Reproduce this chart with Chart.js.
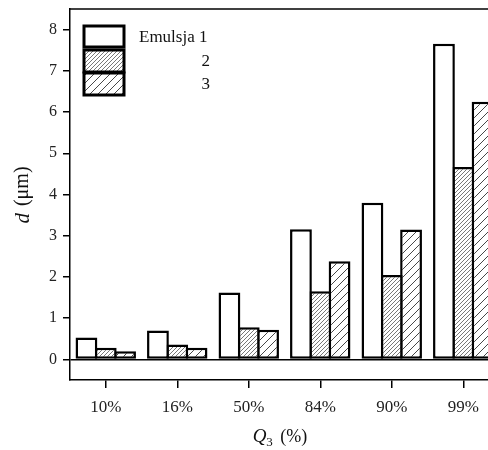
<!DOCTYPE html>
<html>
<head>
<meta charset="utf-8">
<script src="https://cdn.jsdelivr.net/npm/chart.js@4"></script>
<style>
  html, body { margin: 0; padding: 0; background: #fff; overflow: hidden; }
  #wrap { width: 488px; height: 450px; overflow: hidden; }
</style>
</head>
<body>
<div id="wrap"><canvas id="grafico" width="505" height="450"></canvas></div>
<script>
// dados do gráfico
const categorias = ['10%', '16%', '50%', '84%', '90%', '99%'];
const emulsja1 = [0.53, 0.70, 1.62, 3.16, 3.80, 7.66];
const emulsja2 = [0.28, 0.36, 0.78, 1.65, 2.05, 4.67];
const emulsja3 = [0.20, 0.28, 0.72, 2.38, 3.15, 6.25];
const nomesSeries = ['Emulsja 1', '2', '3'];
const ticksY = [0, 1, 2, 3, 4, 5, 6, 7, 8];
const tituloY = ['d', ' (μm)'];
const tituloX = ['Q', '3', ' (%)'];

const fonte = '"Liberation Serif", "DejaVu Serif", serif';
const canvas = document.getElementById('grafico');
const ctx = canvas.getContext('2d');

// hachura diagonal "/"
function criarHachura(tam, cor, larg) {
  const c = document.createElement('canvas');
  c.width = tam; c.height = tam;
  const g = c.getContext('2d');
  g.fillStyle = '#fff';
  g.fillRect(0, 0, tam, tam);
  g.strokeStyle = cor;
  g.lineWidth = larg;
  g.beginPath();
  g.moveTo(-1, tam + 1); g.lineTo(tam + 1, -1);
  g.moveTo(-tam / 2 - 1, tam / 2 + 1); g.lineTo(tam / 2 + 1, -tam / 2 - 1);
  g.moveTo(tam / 2 - 1, tam * 1.5 + 1); g.lineTo(tam * 1.5 + 1, tam / 2 - 1);
  g.stroke();
  return ctx.createPattern(c, 'repeat');
}

const hachuraDensa = criarHachura(4, '#555', 0.8);
const hachuraLarga = criarHachura(8, '#333', 0.9);

// legenda, moldura superior e títulos dos eixos
const extras = {
  id: 'extras',
  afterDraw(chart) {
    const c = chart.ctx;
    const area = chart.chartArea;
    c.save();
    // linha superior da moldura
    c.strokeStyle = '#000';
    c.lineWidth = 1.5;
    c.beginPath();
    c.moveTo(area.left, area.top);
    c.lineTo(area.right, area.top);
    c.stroke();

    // legenda
    const caixas = [[84, 26, 40, 21], [84, 50, 40, 22], [84, 73, 40, 22]];
    const fundos = ['#fff', hachuraDensa, hachuraLarga];
    caixas.forEach(function(b, i) {
      c.fillStyle = fundos[i];
      c.fillRect(b[0], b[1], b[2], b[3]);
      c.lineWidth = 3;
      c.strokeStyle = '#000';
      c.strokeRect(b[0], b[1], b[2], b[3]);
    });
    c.fillStyle = '#111';
    c.font = '17px ' + fonte;
    c.textBaseline = 'middle';
    c.textAlign = 'left';
    c.fillText(nomesSeries[0], 139, 38);
    c.textAlign = 'right';
    c.fillText(nomesSeries[1], 210, 62);
    c.fillText(nomesSeries[2], 210, 85);

    // título do eixo y: "d (μm)"
    c.save();
    c.translate(23, 195);
    c.rotate(-Math.PI / 2);
    c.textAlign = 'left';
    c.textBaseline = 'middle';
    c.font = 'italic 21px ' + fonte;
    const w1 = c.measureText(tituloY[0]).width;
    c.font = '20px ' + fonte;
    const w2 = c.measureText(tituloY[1]).width;
    let x0 = -(w1 + w2 + 2) / 2;
    c.font = 'italic 21px ' + fonte;
    c.fillText(tituloY[0], x0, 0);
    c.font = '20px ' + fonte;
    c.fillText(tituloY[1], x0 + w1 + 2, 0);
    c.restore();

    // título do eixo x: "Q3 (%)"
    c.textAlign = 'left';
    c.textBaseline = 'middle';
    c.font = 'italic 19px ' + fonte;
    const q = c.measureText(tituloX[0]).width;
    c.font = '13px ' + fonte;
    const s = c.measureText(tituloX[1]).width;
    c.font = '18px ' + fonte;
    const r = c.measureText(tituloX[2]).width;
    let xi = 280 - (q + s + r + 3) / 2;
    c.font = 'italic 19px ' + fonte;
    c.fillText(tituloX[0], xi, 437);
    c.font = '13px ' + fonte;
    c.fillText(tituloX[1], xi + q, 443);
    c.font = '18px ' + fonte;
    c.fillText(tituloX[2], xi + q + s + 3, 437);
    c.restore();
  }
};

// barras ligeiramente sobrepostas para as bordas vizinhas ficarem numa só linha
const estiloBarra = {
  borderColor: '#000',
  borderWidth: 2.5,
  borderSkipped: false,
  barPercentage: 1.13,
  categoryPercentage: 0.81
};

const grafico = new Chart(ctx, {
  type: 'bar',
  data: {
    labels: categorias,
    datasets: [
      Object.assign({ label: nomesSeries[0], data: emulsja1, backgroundColor: '#fff' }, estiloBarra),
      Object.assign({ label: nomesSeries[1], data: emulsja2, backgroundColor: hachuraDensa }, estiloBarra),
      Object.assign({ label: nomesSeries[2], data: emulsja3, backgroundColor: hachuraLarga }, estiloBarra)
    ]
  },
  options: {
    responsive: false,
    animation: false,
    layout: { padding: { top: 9, right: 6, left: 0, bottom: 0 } },
    plugins: {
      legend: { display: false },
      tooltip: { enabled: false }
    },
    scales: {
      x: {
        afterFit: function(scale) { scale.height = 70; },
        border: { color: '#000', width: 1.5 },
        grid: {
          offset: false,
          drawOnChartArea: false,
          tickLength: 8,
          color: '#000',
          lineWidth: 1.5
        },
        ticks: {
          color: '#222',
          padding: 9,
          font: { family: fonte, size: 17 }
        }
      },
      y: {
        min: -0.5,
        max: 8.5,
        afterFit: function(scale) {
          scale.width = 70;
          scale.paddingTop = 0;
          scale.paddingBottom = 0;
        },
        afterBuildTicks: function(scale) {
          scale.ticks = ticksY.map(function(v) { return { value: v }; });
        },
        border: { color: '#000', width: 1.5 },
        grid: {
          color: function(c) { return c.tick && c.tick.value === 0 ? '#000' : 'rgba(0,0,0,0)'; },
          tickColor: '#000',
          lineWidth: 1.5,
          tickLength: 7
        },
        ticks: {
          color: '#222',
          padding: 6,
          font: { family: fonte, size: 16 }
        }
      }
    }
  },
  plugins: [extras]
});
</script>
</body>
</html>
